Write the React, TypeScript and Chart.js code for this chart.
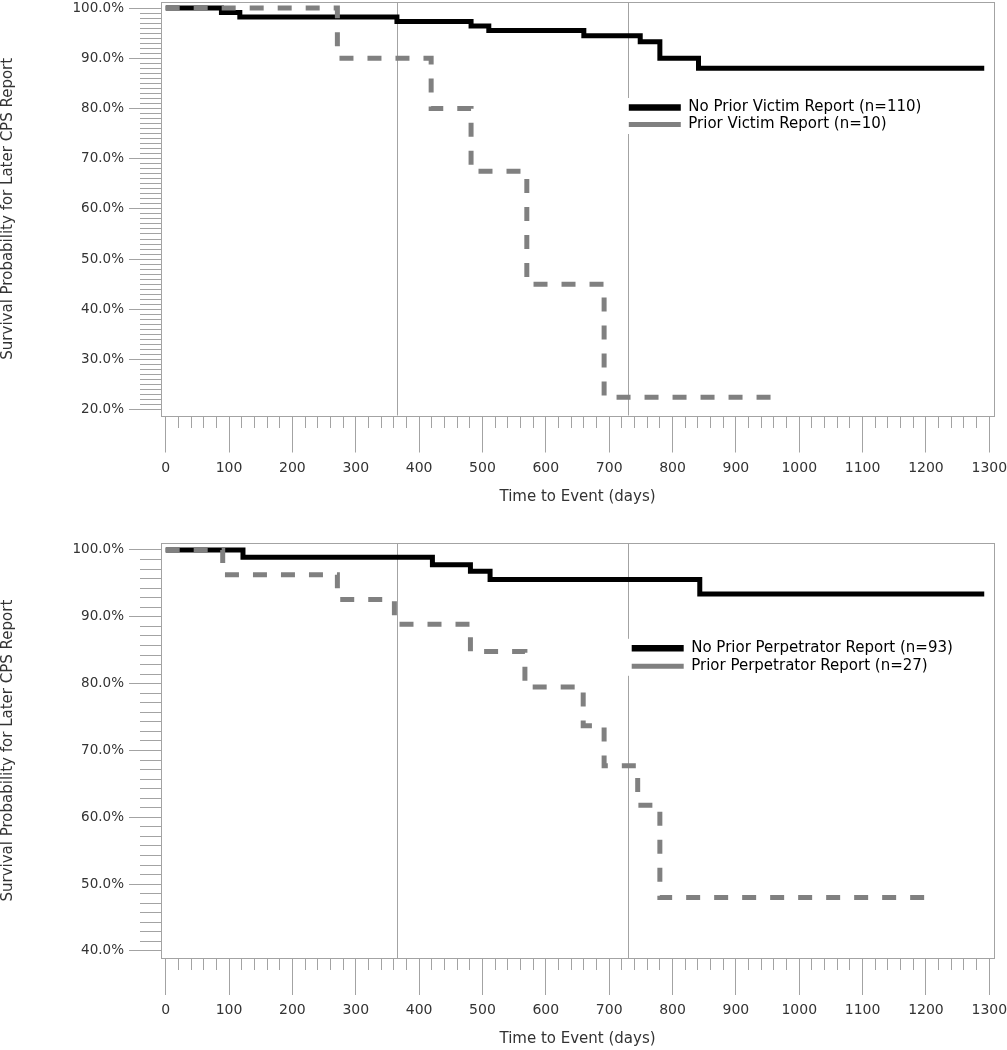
import React, { useEffect, useRef } from 'react';
import { Chart, registerables } from 'chart.js';

Chart.register(...registerables);

// ---------------- data ----------------
const X_TITLE = 'Time to Event (days)';
const Y_TITLE = 'Survival Probability for Later CPS Report';
const REF_DAYS = [365, 730];
const X_TICK_MIN = 0;
const X_TICK_MAX = 1300;
const X_MAJOR_STEP = 100;
const X_MINOR_STEP = 20;

// top panel: prior victim report
const TOP_LABELS = ['No Prior Victim Report (n=110)', 'Prior Victim Report (n=10)'];
const TOP_NO_PRIOR_DAYS = [0, 88, 117, 365, 482, 510, 660, 749, 780, 841, 1292];
const TOP_NO_PRIOR_SURV = [100, 99.1, 98.2, 97.3, 96.4, 95.5, 94.5, 93.3, 90.0, 88.0, 88.0];
const TOP_PRIOR_DAYS = [0, 271, 419, 482, 570, 692, 961];
const TOP_PRIOR_SURV = [100, 90.0, 80.0, 67.5, 45.0, 22.5, 22.5];
const TOP_Y_TICK_LOW = 20;
const TOP_Y_TICK_HIGH = 100;
const TOP_Y_MINOR_STEP = 1;

// bottom panel: prior perpetrator report
const BOT_LABELS = ['No Prior Perpetrator Report (n=93)', 'Prior Perpetrator Report (n=27)'];
const BOT_NO_PRIOR_DAYS = [0, 122, 421, 481, 512, 843, 1292];
const BOT_NO_PRIOR_SURV = [100, 98.9, 97.8, 96.8, 95.6, 93.4, 93.4];
const BOT_PRIOR_DAYS = [0, 90, 271, 361, 481, 567, 659, 692, 745, 780, 1201];
const BOT_PRIOR_SURV = [100, 96.3, 92.6, 88.9, 84.8, 79.5, 73.7, 67.7, 61.8, 48.0, 48.0];
const BOT_Y_TICK_LOW = 40;
const BOT_Y_TICK_HIGH = 100;
const BOT_Y_MINOR_STEP = 10 / 7;

const Y_MAJOR_STEP = 10;

// ---------------- styles ----------------
const FONT = "'DejaVu Sans', Verdana, sans-serif";
const AXIS_GRAY = '#a3a3a3';
const TEXT = '#333333';

type PanelSpec = {
  labels: string[];
  noDays: number[];
  noSurv: number[];
  prDays: number[];
  prSurv: number[];
  yLow: number;
  yHigh: number;
  yMinorStep: number;
  yMin: number;
  yMax: number;
  xMin: number;
  xMax: number;
  padTop: number;
  xAxisH: number;
  xTitlePadBottom: number;
  legendDx: number;
  legendDy: number;
  legendPad: number;
  height: number;
};

const zip = (xs: number[], ys: number[]) => xs.map((x, i) => ({ x, y: ys[i] }));
const near = (v: number, step: number) => Math.abs(v - Math.round(v / step) * step) < 1e-6;

function buildConfig(p: PanelSpec): any {
  const decor = {
    id: 'decor',
    afterLayout(chart: any) {
      const lg = chart.legend;
      if (!lg) return;
      const ca = chart.chartArea;
      const pad = lg.options.labels.padding;
      lg.left = ca.left + p.legendDx - pad;
      lg.top = ca.top + p.legendDy - pad;
      lg.right = ca.right;
      lg.bottom = ca.bottom;
    },
    beforeDraw(chart: any) {
      const { ctx, chartArea: ca, scales } = chart;
      ctx.save();
      ctx.strokeStyle = AXIS_GRAY;
      ctx.lineWidth = 1;
      ctx.setLineDash([]);
      REF_DAYS.forEach((d) => {
        const px = Math.round(scales.x.getPixelForValue(d)) + 0.5;
        ctx.beginPath();
        ctx.moveTo(px, ca.top);
        ctx.lineTo(px, ca.bottom);
        ctx.stroke();
      });
      ctx.strokeRect(Math.round(ca.left) + 0.5, Math.round(ca.top) + 0.5,
        Math.round(ca.right - ca.left), Math.round(ca.bottom - ca.top));
      const hb = chart.legend && chart.legend.legendHitBoxes;
      if (hb && hb.length) {
        const l = Math.min(...hb.map((h: any) => h.left)) - 5;
        const t = Math.min(...hb.map((h: any) => h.top)) - 2;
        const r = Math.max(...hb.map((h: any) => h.left + h.width)) + 4;
        const b = Math.max(...hb.map((h: any) => h.top + h.height)) + 2;
        ctx.fillStyle = '#ffffff';
        ctx.fillRect(l, t, r - l, b - t);
      }
      ctx.restore();
    },
  };

  return {
    type: 'line',
    data: {
      datasets: [
        {
          label: p.labels[0],
          data: zip(p.noDays, p.noSurv),
          borderColor: '#000000',
          backgroundColor: '#000000',
          borderWidth: 5,
          stepped: true,
          pointRadius: 0,
          fill: false,
          order: 1,
        },
        {
          label: p.labels[1],
          data: zip(p.prDays, p.prSurv),
          borderColor: '#808080',
          backgroundColor: '#808080',
          borderWidth: 5,
          borderDash: [14, 14],
          stepped: true,
          pointRadius: 0,
          fill: false,
          order: 0,
        },
      ],
    },
    options: {
      responsive: false,
      animation: false,
      devicePixelRatio: 1,
      events: [],
      layout: { padding: { top: p.padTop, right: 13, left: 0, bottom: 0 } },
      scales: {
        x: {
          type: 'linear',
          position: 'bottom',
          min: p.xMin,
          max: p.xMax,
          afterBuildTicks: (scale: any) => {
            scale.ticks = scale.ticks.filter((t: any) => t.value >= X_TICK_MIN - 1e-6 && t.value <= X_TICK_MAX + 1e-6);
          },
          afterFit: (scale: any) => {
            scale.height = p.xAxisH;
            scale.paddingLeft = 0;
            scale.paddingRight = 0;
          },
          ticks: {
            stepSize: X_MINOR_STEP,
            includeBounds: false,
            autoSkip: false,
            maxRotation: 0,
            minRotation: 0,
            padding: 7,
            color: TEXT,
            font: { family: FONT, size: 14 },
            callback: (v: number) => (near(v, X_MAJOR_STEP) ? String(Math.round(v)) : ''),
          },
          grid: {
            display: true,
            drawOnChartArea: false,
            drawTicks: true,
            tickLength: 37,
            tickWidth: 1,
            tickColor: AXIS_GRAY,
            tickBorderDash: (c: any) => (c.tick && !near(c.tick.value, X_MAJOR_STEP) ? [12, 60] : []),
          },
          border: { display: false },
          title: {
            display: true,
            text: X_TITLE,
            color: TEXT,
            font: { family: FONT, size: 15 },
            padding: { top: 0, bottom: p.xTitlePadBottom },
          },
        },
        y: {
          type: 'linear',
          position: 'left',
          min: p.yMin,
          max: p.yMax,
          afterBuildTicks: (scale: any) => {
            scale.ticks = scale.ticks.filter((t: any) => t.value >= p.yLow - 1e-6 && t.value <= p.yHigh + 1e-6);
          },
          afterFit: (scale: any) => {
            scale.width = 161;
            scale.paddingTop = 0;
            scale.paddingBottom = 0;
          },
          ticks: {
            stepSize: p.yMinorStep,
            includeBounds: false,
            autoSkip: false,
            padding: 5,
            color: TEXT,
            font: { family: FONT, size: 13.5 },
            callback: (v: number) => (near(v, Y_MAJOR_STEP) ? (Math.round(v)).toFixed(1) + '%' : ''),
          },
          grid: {
            display: true,
            drawOnChartArea: false,
            drawTicks: true,
            tickLength: 32,
            tickWidth: 1,
            tickColor: AXIS_GRAY,
            tickBorderDash: (c: any) => (c.tick && !near(c.tick.value, Y_MAJOR_STEP) ? [0, 11, 60] : []),
          },
          border: { display: false },
          title: {
            display: true,
            text: Y_TITLE,
            color: TEXT,
            font: { family: FONT, size: 15 },
            padding: { top: -1, bottom: 0 },
          },
        },
      },
      plugins: {
        tooltip: { enabled: false },
        legend: {
          display: true,
          position: 'chartArea',
          align: 'start',
          labels: {
            usePointStyle: true,
            pointStyle: 'line',
            pointStyleWidth: 52,
            boxHeight: 15,
            padding: p.legendPad,
            textAlign: 'left',
            color: '#000000',
            font: { family: FONT, size: 15 },
            sort: (a: any, b: any) => a.datasetIndex - b.datasetIndex,
            generateLabels: (chart: any) => {
              const items = (Chart as any).defaults.plugins.legend.labels.generateLabels(chart);
              items.forEach((it: any) => {
                it.pointStyle = 'line';
                if (it.datasetIndex === 0) it.lineWidth = 6.5;
              });
              return items;
            },
          },
        },
      },
    },
    plugins: [decor],
  };
}

const TOP_SPEC: PanelSpec = {
  labels: TOP_LABELS,
  noDays: TOP_NO_PRIOR_DAYS,
  noSurv: TOP_NO_PRIOR_SURV,
  prDays: TOP_PRIOR_DAYS,
  prSurv: TOP_PRIOR_SURV,
  yLow: TOP_Y_TICK_LOW,
  yHigh: TOP_Y_TICK_HIGH,
  yMinorStep: TOP_Y_MINOR_STEP,
  yMin: 18.85,
  yMax: 101.2,
  xMin: -7.4,
  xMax: 1307.4,
  padTop: 2,
  xAxisH: 104.5,
  xTitlePadBottom: 14,
  legendDx: 467.8,
  legendDy: 98,
  legendPad: 2,
  height: 520,
};

const BOT_SPEC: PanelSpec = {
  labels: BOT_LABELS,
  noDays: BOT_NO_PRIOR_DAYS,
  noSurv: BOT_NO_PRIOR_SURV,
  prDays: BOT_PRIOR_DAYS,
  prSurv: BOT_PRIOR_SURV,
  yLow: BOT_Y_TICK_LOW,
  yHigh: BOT_Y_TICK_HIGH,
  yMinorStep: BOT_Y_MINOR_STEP,
  yMin: 38.95,
  yMax: 101.0,
  xMin: -7.4,
  xMax: 1307.4,
  padTop: 23.3,
  xAxisH: 92,
  xTitlePadBottom: 2,
  legendDx: 470.7,
  legendDy: 97.5,
  legendPad: 3,
  height: 530,
};

function Panel({ spec, top }: { spec: PanelSpec; top: number }) {
  const ref = useRef<HTMLCanvasElement | null>(null);
  useEffect(() => {
    if (!ref.current) return;
    const chart = new Chart(ref.current, buildConfig(spec));
    return () => chart.destroy();
  }, [spec]);
  return (
    <canvas
      ref={ref}
      width={1007}
      height={spec.height}
      style={{ position: 'absolute', left: 0, top, width: 1007, height: spec.height, display: 'block' }}
    />
  );
}

export default function App() {
  return (
    <div style={{ position: 'absolute', left: 0, top: 0, width: 1007, height: 1050, background: '#ffffff', overflow: 'hidden' }}>
      <Panel spec={TOP_SPEC} top={0} />
      <Panel spec={BOT_SPEC} top={520} />
    </div>
  );
}
